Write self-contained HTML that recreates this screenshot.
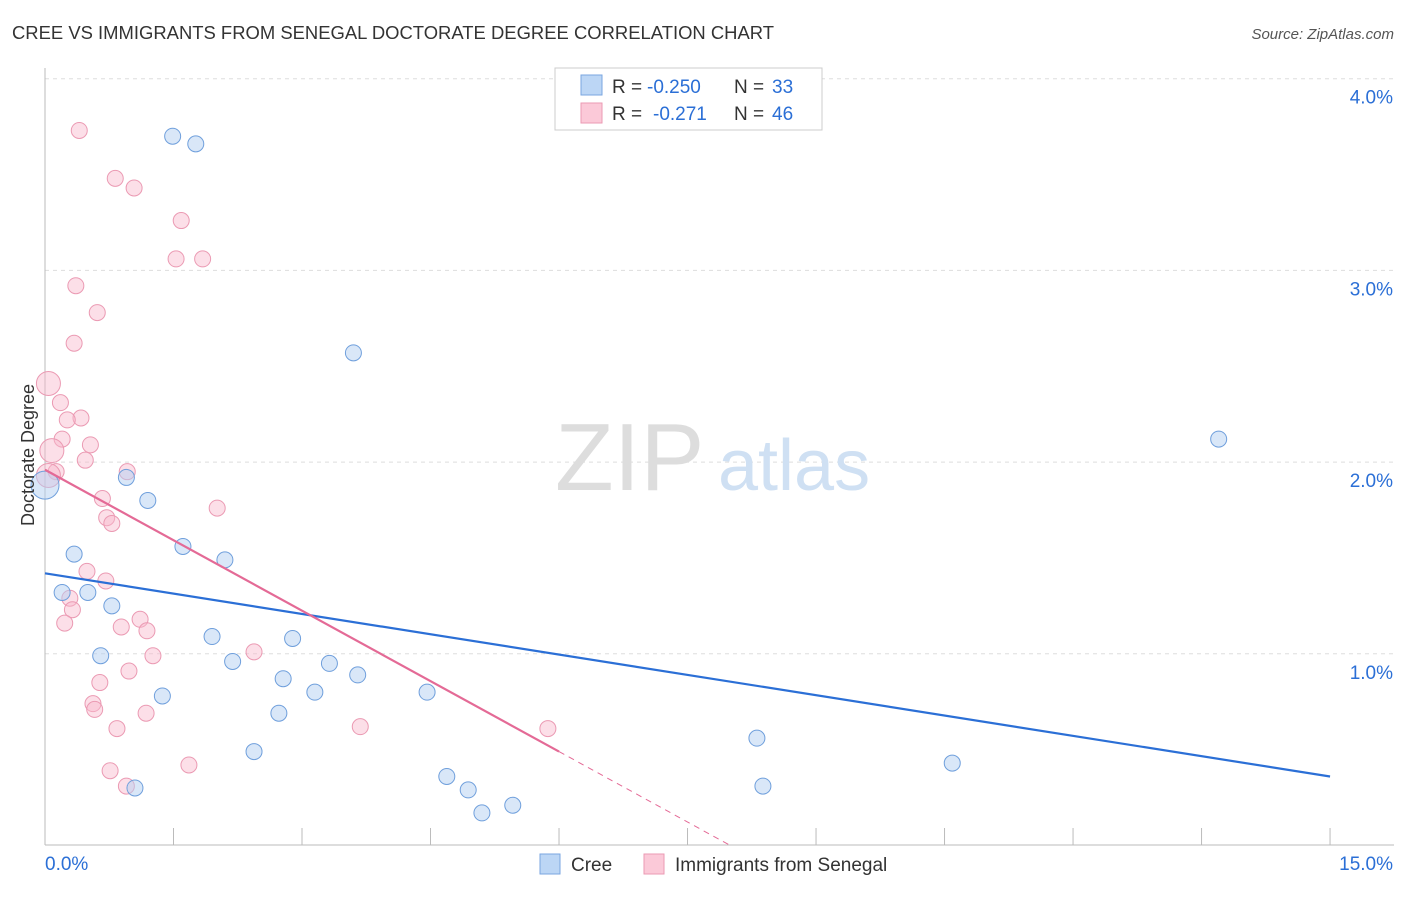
<!DOCTYPE html>
<html><head><meta charset="utf-8"><style>
body{margin:0;background:#fff;font-family:"Liberation Sans",sans-serif;}
svg text{font-family:"Liberation Sans",sans-serif;}
</style></head><body>
<svg id="chart" width="1406" height="892" viewBox="0 0 1406 892" xmlns="http://www.w3.org/2000/svg">
<text x="12" y="39" font-size="18" fill="#333" textLength="762" lengthAdjust="spacingAndGlyphs">CREE VS IMMIGRANTS FROM SENEGAL DOCTORATE DEGREE CORRELATION CHART</text>
<text x="1394" y="39" font-size="15" fill="#555" text-anchor="end" font-style="italic">Source: ZipAtlas.com</text>
<g id="grid"></g>
<g><text x="555" y="490" font-size="96" fill="#ddd" font-family="Liberation Serif">ZIP</text><text x="718" y="490" font-size="72" fill="#cfe0f3">atlas</text></g>
<g id="axes"></g>
<g id="pts"></g>
<g id="lines"></g>
<text transform="translate(34,455) rotate(-90)" font-size="18" fill="#333" text-anchor="middle">Doctorate Degree</text>
<g>
<rect x="555" y="68" width="267" height="62" fill="#fff" stroke="#ccc"/>
<rect x="581" y="75" width="21" height="20" fill="#bcd6f5" stroke="#7aa6e0"/>
<rect x="581" y="103" width="21" height="20" fill="#fbc9d8" stroke="#eb9ab3"/>
<text x="612" y="93" font-size="19" fill="#333">R =</text>
<text x="647" y="93" font-size="19" fill="#2b6fd6">-0.250</text>
<text x="734" y="93" font-size="19" fill="#333">N =</text>
<text x="772" y="93" font-size="19" fill="#2b6fd6">33</text>
<text x="612" y="120" font-size="19" fill="#333">R =</text>
<text x="653" y="120" font-size="19" fill="#2b6fd6">-0.271</text>
<text x="734" y="120" font-size="19" fill="#333">N =</text>
<text x="772" y="120" font-size="19" fill="#2b6fd6">46</text>
</g>
<g>
<rect x="540" y="854" width="20" height="20" fill="#bcd6f5" stroke="#7aa6e0"/>
<text x="571" y="871" font-size="19" fill="#333">Cree</text>
<rect x="644" y="854" width="20" height="20" fill="#fbc9d8" stroke="#eb9ab3"/>
<text x="675" y="871" font-size="19" fill="#333">Immigrants from Senegal</text>
</g>
</svg>
<script>
const creeX=[1.49,1.76,3.60,13.70,0.95,1.20,0,0.34,1.61,2.10,0.20,0.50,0.78,1.95,2.89,0.65,2.19,3.32,2.78,3.65,1.37,3.15,4.46,2.73,8.31,2.44,10.59,4.69,4.94,8.38,1.05,5.46,5.10];
const creeY=[3.70,3.66,2.57,2.12,1.92,1.80,1.88,1.52,1.56,1.49,1.32,1.32,1.25,1.09,1.08,0.99,0.96,0.95,0.87,0.89,0.78,0.80,0.80,0.69,0.56,0.49,0.43,0.36,0.29,0.31,0.30,0.21,0.17];
const senX=[0.40,0.82,1.04,1.59,1.53,1.84,0.36,0.61,0.34,0.04,0.18,0.42,0.26,0.20,0.53,0.08,0.47,0.13,0.96,0.04,0.67,2.01,0.72,0.78,0.49,0.71,0.29,0.32,1.11,0.23,0.89,1.19,2.44,1.26,0.98,0.64,0.56,0.58,1.18,0.84,3.68,5.87,1.68,0.76,0.95];
const senY=[3.73,3.48,3.43,3.26,3.06,3.06,2.92,2.78,2.62,2.41,2.31,2.23,2.22,2.12,2.09,2.06,2.01,1.95,1.95,1.93,1.81,1.76,1.71,1.68,1.43,1.38,1.29,1.23,1.18,1.16,1.14,1.12,1.01,0.99,0.91,0.85,0.74,0.71,0.69,0.61,0.62,0.61,0.42,0.39,0.31];
const creeTrend=[1.42,0.36];     // y at x=0 and x=15
const senTrend=[1.96,-0.245];    // intercept, slope
const yTicks=[1,2,3,4];
const yTickLabels=["1.0%","2.0%","3.0%","4.0%"];
const xTicks=[0,1.5,3,4.5,6,7.5,9,10.5,12,13.5,15];
const NS="http://www.w3.org/2000/svg";
const X=v=>45+v*85.67, Y=v=>845.5-v*191.7;
function mk(t,a,p){const e=document.createElementNS(NS,t);for(const k in a)e.setAttribute(k,a[k]);p.appendChild(e);return e;}
const grid=document.getElementById('grid'),axes=document.getElementById('axes'),pts=document.getElementById('pts'),lines=document.getElementById('lines');
yTicks.forEach((v,i)=>{
 const l=mk('line',{x1:45,x2:1394,y1:Y(v),y2:Y(v),stroke:'#ddd','stroke-dasharray':'4,4'},grid);
 
 
 const t=mk('text',{x:1393,y:Y(v)+25,'font-size':19,fill:'#2b6fd6','text-anchor':'end'},axes);
 t.textContent=yTickLabels[i];
 
 
});
const ax=mk('line',{x1:45,x2:1394,y1:845,y2:845,stroke:'#bbb'},axes);


const ay=mk('line',{x1:45,x2:45,y1:68,y2:845,stroke:'#bbb'},axes);


xTicks.forEach(v=>{const t=mk('line',{x1:X(v),x2:X(v),y1:828,y2:845,stroke:'#bbb'},axes);
 
 });
const xl=mk('text',{x:45,y:870,'font-size':19,fill:'#2b6fd6'},axes);xl.textContent='0.0%';


const xr=mk('text',{x:1393,y:870,'font-size':19,fill:'#2b6fd6','text-anchor':'end'},axes);xr.textContent='15.0%';


senX.forEach((x,i)=>{const c=mk('circle',{cx:X(x),cy:Y(senY[i]),r:(x<0.1?12:8),fill:'rgba(248,183,203,0.45)',stroke:'#eb9ab3','stroke-width':1},pts);
 
 });
creeX.forEach((x,i)=>{const c=mk('circle',{cx:X(x),cy:Y(creeY[i]),r:(x<0.1?14:8),fill:'rgba(180,208,242,0.5)',stroke:'#6f9fdc','stroke-width':1},pts);
 
 });
const bl=mk('line',{x1:X(0),y1:Y(creeTrend[0]),x2:X(15),y2:Y(creeTrend[1]),stroke:'#2b6fd6','stroke-width':2.2},lines);


const sy=x=>senTrend[0]+senTrend[1]*x;
const xe=-senTrend[0]/senTrend[1];
const pl=mk('line',{x1:X(0),y1:Y(sy(0)),x2:X(6),y2:Y(sy(6)),stroke:'#e46a96','stroke-width':2.2},lines);


const pd=mk('line',{x1:X(6),y1:Y(sy(6)),x2:X(xe),y2:Y(0),stroke:'#e46a96','stroke-width':1,'stroke-dasharray':'6,5'},lines);


</script>
</body></html>
